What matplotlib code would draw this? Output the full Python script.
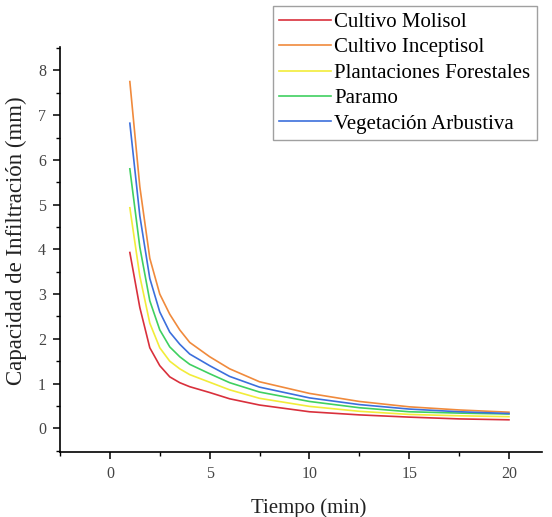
import numpy as np
import matplotlib.pyplot as plt

# Tiempo (min) y capacidad de infiltracion (mm) por cobertura
tiempo = [1, 1.5, 2, 2.5, 3, 3.5, 4, 5, 6, 7.5, 10, 12.5, 15, 17.5, 20]
molisol = [3.93, 2.70, 1.80, 1.40, 1.15, 1.02, 0.93, 0.80, 0.66, 0.52, 0.37, 0.30, 0.25, 0.21, 0.19]
inceptisol = [7.75, 5.40, 3.80, 3.00, 2.55, 2.20, 1.92, 1.60, 1.33, 1.04, 0.78, 0.60, 0.48, 0.41, 0.36]
forestales = [4.93, 3.40, 2.35, 1.80, 1.50, 1.33, 1.20, 1.03, 0.86, 0.67, 0.49, 0.38, 0.31, 0.28, 0.26]
paramo = [5.80, 4.05, 2.85, 2.20, 1.82, 1.60, 1.43, 1.22, 1.02, 0.81, 0.60, 0.46, 0.37, 0.34, 0.32]
arbustiva = [6.82, 4.75, 3.35, 2.60, 2.15, 1.88, 1.66, 1.40, 1.16, 0.92, 0.68, 0.53, 0.43, 0.37, 0.33]

series = [
    ("Cultivo Molisol", molisol, "#d9303c"),
    ("Cultivo Inceptisol", inceptisol, "#f08a3c"),
    ("Plantaciones Forestales", forestales, "#f2ec3a"),
    ("Paramo", paramo, "#3fd060"),
    ("Vegetación Arbustiva", arbustiva, "#3c6fdc"),
]

plt.rcParams['font.family'] = ['Liberation Serif', 'DejaVu Serif']

fig = plt.figure(figsize=(5.52, 5.17), dpi=100)
ax = fig.add_axes([0.1087, 0.1257, 0.873, 0.7840])

lines = []
for name, vals, color in series:
    ln, = ax.plot(tiempo, vals, color=color, lw=1.2, label=name)
    lines.append(ln)

ax.set_xlim(-2.5, 21.65)
ax.set_ylim(-0.53, 8.53)
ax.set_xticks([0, 5, 10, 15, 20])
ax.set_xticks(np.arange(-2.5, 21, 2.5), minor=True)
ax.set_yticks(range(0, 9))
ax.set_yticks(np.arange(-0.5, 8.6, 0.5), minor=True)

for side in ("top", "right"):
    ax.spines[side].set_visible(False)
for side in ("left", "bottom"):
    ax.spines[side].set_linewidth(1.2)

ax.tick_params(which="major", direction="out", length=5, width=1.1, labelsize=11.5,
               labelcolor="#444444", pad=5)
ax.tick_params(which="minor", direction="out", length=3, width=1.0)

ax.set_xlabel("Tiempo (min)", fontsize=15, color="#222222")
ax.set_ylabel("Capacidad de Infiltración (mm)", fontsize=16.5, color="#222222")
ax.xaxis.set_label_coords(0.517, -0.114)
ax.yaxis.set_label_coords(-0.068, 0.521)

fig.legend(handles=lines, loc="upper right", bbox_to_anchor=(0.972, 0.988),
           fontsize=15, frameon=True, fancybox=False, edgecolor="#888888",
           handlelength=2.5, handletextpad=0.15, borderpad=0.3, labelspacing=0.28,
           borderaxespad=0)

fig.savefig("out.png", dpi=100)
